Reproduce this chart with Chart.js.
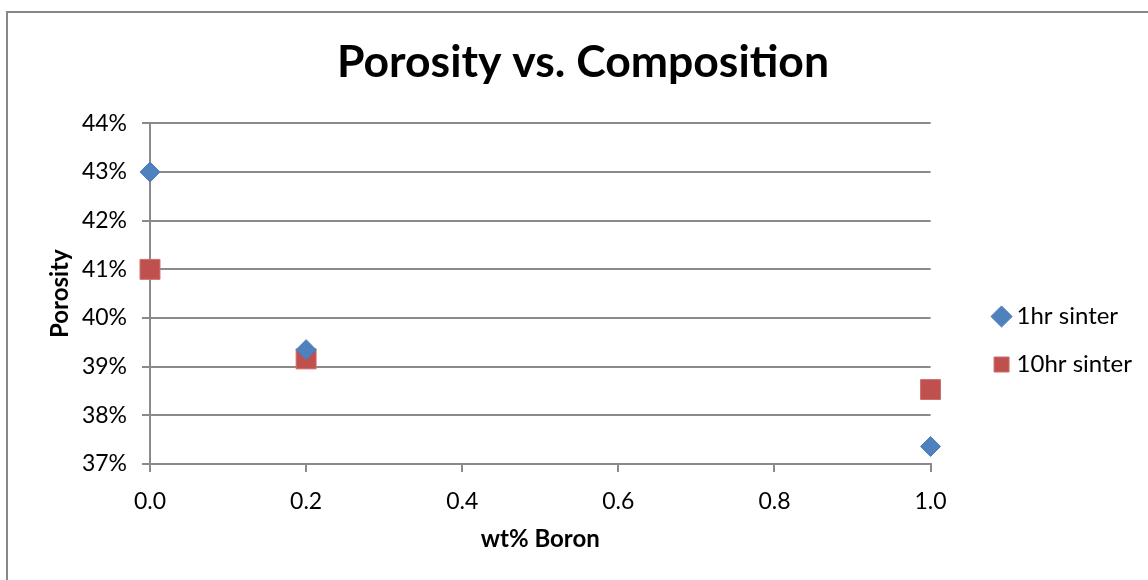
<!DOCTYPE html>
<html>
<head>
<meta charset="utf-8">
<script src="https://cdn.jsdelivr.net/npm/chart.js@4.4.1/dist/chart.umd.min.js"></script>
<style>
  html, body { margin: 0; padding: 0; background: #fff; overflow: hidden; }
  #wrap { position: relative; width: 1148px; height: 580px; overflow: hidden; }
  #frame {
    position: absolute; left: 6px; top: 11px; width: 1200px; height: 700px;
    border-left: 2px solid #878787; border-top: 2px solid #878787;
    pointer-events: none;
  }
  canvas { position: absolute; left: 0; top: 0; }
</style>
</head>
<body>
<div id="wrap">
  <canvas id="porosityChart" width="1148" height="670"></canvas>
  <div id="frame"></div>
</div>
<script>
// wt% boron added to the powder
var boron = [0.0, 0.2, 1.0];
// measured porosity (fraction) after sintering
var porosity1hr = [0.43, 0.3935, 0.3736];
var porosity10hr = [0.41, 0.3916, 0.3853];

var xTicks = { min: 0, max: 1, step: 0.2 };
var yTicks = { min: 0.37, max: 0.44, step: 0.01 };

function points(ys) {
  return boron.map(function (b, i) { return { x: b, y: ys[i] }; });
}

var gridGray = '#8a8a8a';
var fontFam = 'Lato, "Open Sans", sans-serif';

// fix the axis boxes so the plot area sits where it should
function fixWidth(w) { return function (scale) { scale.width = w; }; }
function fixHeight(h) { return function (scale) { scale.height = h; }; }

var ctx = document.getElementById('porosityChart').getContext('2d');
var chart = new Chart(ctx, {
  type: 'scatter',
  data: {
    datasets: [
      {
        label: '1hr sinter',
        data: points(porosity1hr),
        clip: false,
        pointStyle: 'rectRot',
        pointRadius: 10,
        pointHoverRadius: 10,
        backgroundColor: '#4F81BD',
        borderColor: '#4A7EBB',
        borderWidth: 1
      },
      {
        label: '10hr sinter',
        data: points(porosity10hr),
        clip: false,
        pointStyle: 'rect',
        pointRadius: 14.1,
        pointHoverRadius: 14.1,
        backgroundColor: '#C0504D',
        borderColor: '#CC6f6c',
        borderWidth: 1
      }
    ]
  },
  options: {
    responsive: false,
    animation: false,
    events: [],
    layout: { padding: { top: 11, left: 24, right: 6, bottom: 0 } },
    plugins: {
      title: {
        display: true,
        text: 'Porosity vs. Composition',
        color: '#000',
        font: { family: fontFam, size: 44.5, weight: 'bold', lineHeight: 1.2 },
        padding: { top: 25, bottom: 34 }
      },
      legend: {
        position: 'right',
        labels: {
          usePointStyle: true,
          boxHeight: 15,
          boxWidth: 6,
          color: '#000',
          padding: 24,
          font: { family: fontFam, size: 24 }
        }
      },
      tooltip: { enabled: false }
    },
    scales: {
      x: {
        type: 'linear',
        min: xTicks.min,
        max: xTicks.max,
        afterFit: fixHeight(206),
        ticks: {
          stepSize: xTicks.step,
          color: '#000',
          padding: 16,
          font: { family: fontFam, size: 23 },
          callback: function (v) { return v.toFixed(1); }
        },
        grid: { drawOnChartArea: false, drawTicks: true, tickLength: 8, color: gridGray, lineWidth: 2 },
        border: { display: true, color: gridGray, width: 2 },
        title: {
          display: true,
          text: 'wt% Boron',
          color: '#000',
          font: { family: fontFam, size: 24, weight: 'bold', lineHeight: 1.2 },
          padding: { top: 0, bottom: 116 }
        }
      },
      y: {
        min: yTicks.min,
        max: yTicks.max,
        afterFit: fixWidth(126),
        ticks: {
          stepSize: yTicks.step,
          color: '#000',
          padding: 15,
          font: { family: fontFam, size: 23 },
          callback: function (v) { return Math.round(v * 100) + '%'; }
        },
        grid: { color: gridGray, lineWidth: 2, tickLength: 8 },
        border: { display: true, color: gridGray, width: 2 },
        title: {
          display: true,
          text: 'Porosity',
          color: '#000',
          font: { family: fontFam, size: 24, weight: 'bold', lineHeight: 1.2 },
          padding: { top: 22, bottom: 0 }
        }
      },
      // empty gap between the plot and the legend
      gap: {
        type: 'linear',
        position: 'right',
        afterFit: fixWidth(44),
        ticks: { display: false },
        grid: { display: false },
        border: { display: false }
      }
    }
  }
});
</script>
</body>
</html>
